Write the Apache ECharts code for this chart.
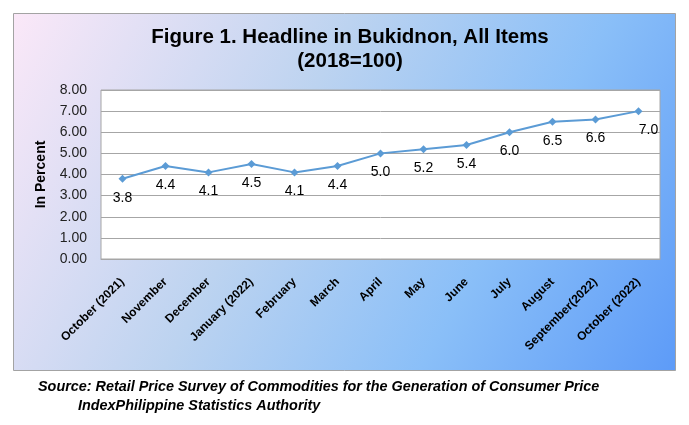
<!DOCTYPE html>
<html>
<head>
<meta charset="utf-8">
<script src="https://cdn.jsdelivr.net/npm/echarts@6/dist/echarts.min.js"></script>
<style>
html,body{margin:0;padding:0;background:#fff;}
#c{width:689px;height:425px;}
</style>
</head>
<body>
<div id="c"></div>
<script>
var categories = ['October (2021)','November','December','January (2022)','February','March','April','May','June','July','August','September(2022)','October (2022)'];
var values = [3.8,4.4,4.1,4.5,4.1,4.4,5.0,5.2,5.4,6.0,6.5,6.6,7.0];
var yMin = 0, yMax = 8, yStep = 1;
var titleText = 'Figure 1. Headline in Bukidnon, All Items\n(2018=100)';
var yAxisName = 'In Percent';
var sourceLine1 = 'Source: Retail Price Survey of Commodities for the Generation of Consumer Price';
var sourceLine2 = 'IndexPhilippine Statistics Authority';

var NARROW = "'Liberation Sans Narrow','Arial Narrow','Liberation Sans',Arial,sans-serif";
var ARIAL = "'Liberation Sans',Arial,sans-serif";

var chart = echarts.init(document.getElementById('c'), null, {renderer:'canvas'});
var seriesData = values.map(function(v, i){
  var d = {value: v};
  if (i === values.length - 1) d.label = {offset: [10, 0]};
  return d;
});
chart.setOption({
  animation: false,
  backgroundColor: '#ffffff',
  graphic: [
    {type:'rect', z:-10, shape:{x:13.5, y:13.5, width:662, height:357},
     style:{
       fill: new echarts.graphic.LinearGradient(0,0,1,1,[
         {offset:0, color:'#fbe8f8'},
         {offset:0.4, color:'#bcd3f0'},
         {offset:0.7, color:'#8abff8'},
         {offset:1, color:'#5d9bf8'}
       ]),
       stroke:'#a3a3a3', lineWidth:1}},
    {type:'text', left:38, top:380, style:{text:sourceLine1, font:"italic bold 14.4px " + NARROW, fill:'#000'}},
    {type:'text', left:78, top:399, style:{text:sourceLine2, font:"italic bold 14.4px " + NARROW, fill:'#000'}}
  ],
  title: {
    text: titleText,
    left: 345, top: 20, textAlign: 'center',
    textStyle: {fontFamily: NARROW, fontWeight:'bold', fontSize:20.5, color:'#000', lineHeight:24}
  },
  grid: {left:101, right:29, top:90, bottom:166, show:true, backgroundColor:'#ffffff', borderColor:'#a6a6a6', borderWidth:1},
  xAxis: {
    type:'category', data: categories, boundaryGap:true,
    axisLine:{show:true, lineStyle:{color:'#a6a6a6'}},
    axisTick:{show:false},
    axisLabel:{rotate:45, interval:0, margin:21, fontFamily:NARROW, fontWeight:'bold', fontSize:12, color:'#000'}
  },
  yAxis: {
    type:'value', min:yMin, max:yMax, interval:yStep,
    name: yAxisName, nameLocation:'middle', nameGap:53, nameRotate:90,
    nameTextStyle:{fontFamily:NARROW, fontWeight:'bold', fontSize:14, color:'#000'},
    axisLine:{show:false}, axisTick:{show:false},
    axisLabel:{margin:14, fontFamily:ARIAL, fontSize:14, color:'#222', formatter:function(v){return v.toFixed(2);}},
    splitLine:{lineStyle:{color:'#a6a6a6', width:1}}
  },
  series: [{
    type:'line', data: seriesData,
    symbol:'diamond', symbolSize:8,
    lineStyle:{color:'#5b9bd5', width:2},
    itemStyle:{color:'#5b9bd5'},
    label:{show:true, position:'bottom', distance:8, fontFamily:ARIAL, fontSize:14, color:'#000',
      formatter:function(p){return p.value.toFixed(1);}}
  }]
});
</script>
</body>
</html>
